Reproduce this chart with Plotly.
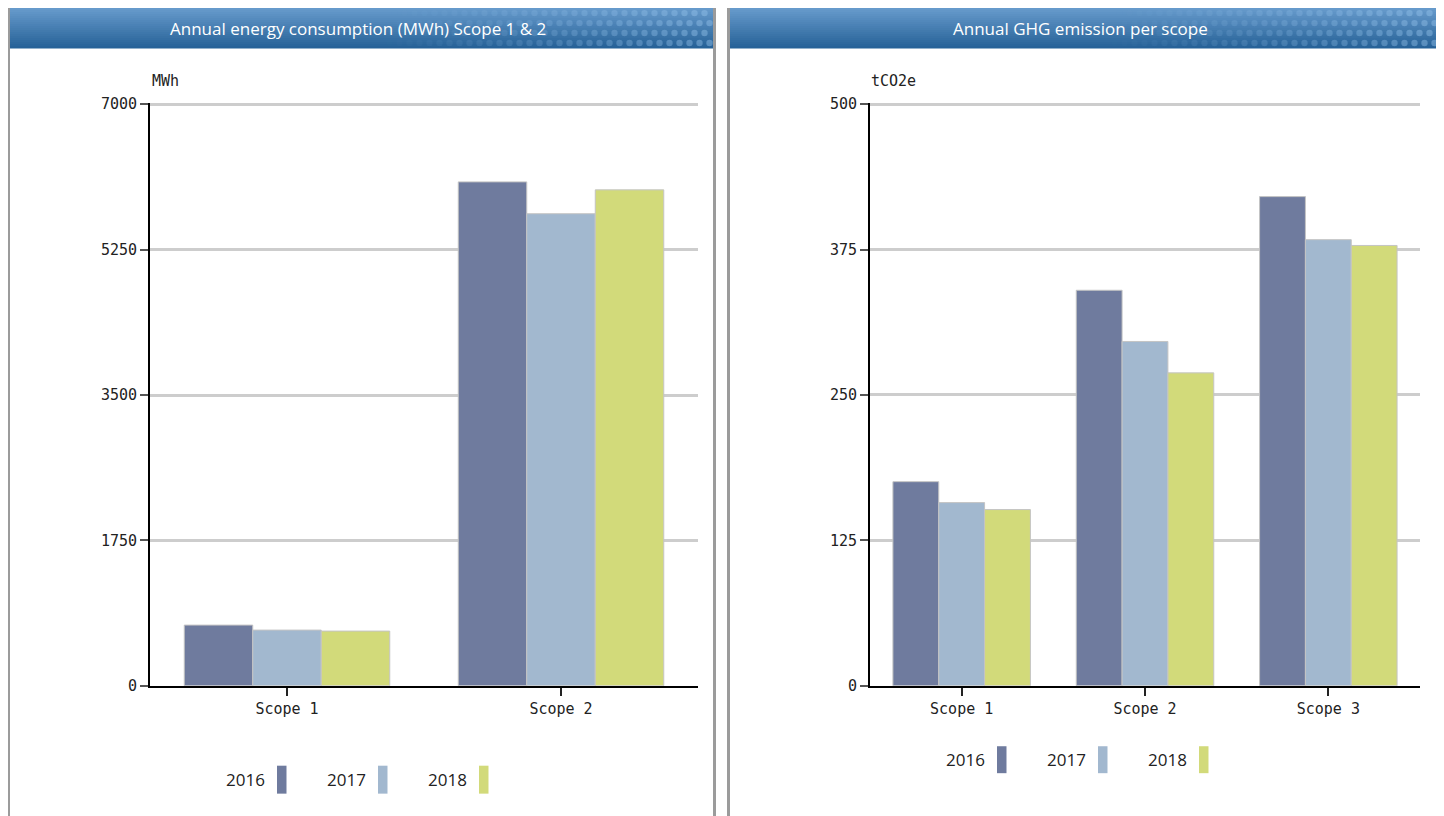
import plotly.graph_objects as go

W, H = 1444, 816

years = ["2016", "2017", "2018"]
colors = ["#6f7b9e", "#a2b8cf", "#d2da7a"]

energy_categories = ["Scope 1", "Scope 2"]
energy_2016 = [731, 6065]
energy_2017 = [671, 5682]
energy_2018 = [659, 5969]

ghg_categories = ["Scope 1", "Scope 2", "Scope 3"]
ghg_2016 = [175.5, 340, 420.5]
ghg_2017 = [157.5, 296, 383.5]
ghg_2018 = [151.5, 269, 378.5]

energy_ticks = [0, 1750, 3500, 5250, 7000]
ghg_ticks = [0, 125, 250, 375, 500]

titles = ["Annual energy consumption (MWh) Scope 1 & 2", "Annual GHG emission per scope"]
units = ["MWh", "tCO2e"]

# empirical page offset compensation (target pixel -> paper fraction)
OX, OY, SY = 8.0, 14.9, 0.981


def px(x):
    return (x - OX) / W


def py(y):
    return 1 - ((y - OY) / SY) / H


fig = go.Figure()
energy_series = [energy_2016, energy_2017, energy_2018]
ghg_series = [ghg_2016, ghg_2017, ghg_2018]
for yr, col, vals in zip(years, colors, energy_series):
    fig.add_trace(go.Bar(x=energy_categories, y=vals, name=yr,
                         marker=dict(color=col, line=dict(color="#c4c4c4", width=1)),
                         xaxis="x", yaxis="y", showlegend=False))
for yr, col, vals in zip(years, colors, ghg_series):
    fig.add_trace(go.Bar(x=ghg_categories, y=vals, name=yr,
                         marker=dict(color=col, line=dict(color="#c4c4c4", width=1)),
                         xaxis="x2", yaxis="y2", showlegend=False))

tickfont = dict(family="DejaVu Sans Mono, Liberation Mono, monospace", size=15, color="#222")
ydom = [py(686), py(102)]
common_y = dict(showgrid=True, gridcolor="#cdcdcd", gridwidth=3, zeroline=False, showline=True,
                linecolor="#000", linewidth=2, ticks="outside", ticklen=8, tickcolor="#555", tickwidth=2,
                tickfont=tickfont, domain=ydom, fixedrange=True)
common_x = dict(showline=True, linecolor="#000", linewidth=2, ticks="outside", ticklen=8, tickcolor="#222",
                tickwidth=2, tickfont=tickfont, fixedrange=True)

shapes = []
annotations = []

panels = [(8.5, 714.5), (728.5, 1439.5)]
for (l, r) in panels:
    # gradient title bar
    n = 20
    top, bot = 7, 47
    c0 = (0x66, 0x9a, 0xcb)
    c1 = (0x27, 0x62, 0x98)
    for i in range(n):
        t = i / (n - 1)
        c = tuple(int(round(c0[k] + (c1[k] - c0[k]) * t)) for k in range(3))
        y0 = top + (bot - top) * i / n
        y1 = top + (bot - top) * (i + 1) / n
        shapes.append(dict(type="rect", xref="paper", yref="paper", x0=px(l), x1=px(r), y0=py(y1 + 0.4), y1=py(y0),
                           fillcolor="rgb(%d,%d,%d)" % c, line=dict(width=0), layer="below"))
    # dotted decoration on the right part of the bar
    step = 10
    start = r - 330
    row = 0
    yy = top + 5
    while yy < bot - 2:
        xx = start + (step / 2 if row % 2 else 0)
        while xx < r - 4:
            a = max(0.0, min(1.0, (xx - start) / 330.0))
            shapes.append(dict(type="circle", xref="paper", yref="paper", x0=px(xx - 3.2), x1=px(xx + 3.2),
                               y0=py(yy + 3.2), y1=py(yy - 3.2), fillcolor="rgba(150,195,235,%.3f)" % (0.45 * a),
                               line=dict(width=0), layer="below"))
            xx += step
        yy += step
        row += 1
    # panel border
    shapes.append(dict(type="path", xref="paper", yref="paper",
                       path="M %f %f L %f %f L %f %f L %f %f" % (px(l), py(840), px(l), py(5.5), px(r), py(5.5), px(r), py(840)),
                       line=dict(color="#9b9b9b", width=3), layer="above"))

for (l, r), t in zip(panels, titles):
    annotations.append(dict(text=t, xref="paper", yref="paper", x=px((l + r) / 2 - 4), y=py(27), showarrow=False,
                            font=dict(family="Open Sans", size=17, color="#ffffff"), xanchor="center", yanchor="middle"))

# unit labels
annotations.append(dict(text=units[0], xref="paper", yref="paper", x=px(150), y=py(80), showarrow=False,
                        font=tickfont, xanchor="left", yanchor="middle"))
annotations.append(dict(text=units[1], xref="paper", yref="paper", x=px(869), y=py(80), showarrow=False,
                        font=tickfont, xanchor="left", yanchor="middle"))

# custom legends (text then vertical swatch)
legends = [(267, 780, 101, 28), (987, 760, 101, 27)]
for (xr, yc, stp, hh) in legends:
    for i, (yr, col) in enumerate(zip(years, colors)):
        x_text = xr + i * stp
        annotations.append(dict(text=yr, xref="paper", yref="paper", x=px(x_text), y=py(yc), showarrow=False,
                                font=dict(family="Open Sans", size=17, color="#222"), xanchor="right", yanchor="middle"))
        shapes.append(dict(type="rect", xref="paper", yref="paper", x0=px(x_text + 10), x1=px(x_text + 19.5),
                           y0=py(yc + hh / 2), y1=py(yc - hh / 2), fillcolor=col, line=dict(width=0)))

fig.update_layout(
    width=W, height=H, margin=dict(l=0, r=0, t=0, b=0),
    paper_bgcolor="#ffffff", plot_bgcolor="rgba(0,0,0,0)",
    barmode="group", bargap=0.25, bargroupgap=0,
    xaxis=dict(domain=[px(150), px(698)], anchor="y", **common_x),
    yaxis=dict(anchor="x", range=[0, 7015], tickvals=energy_ticks, ticktext=[str(v) for v in energy_ticks], **common_y),
    xaxis2=dict(domain=[px(870), px(1420)], anchor="y2", **common_x),
    yaxis2=dict(anchor="x2", range=[0, 501], tickvals=ghg_ticks, ticktext=[str(v) for v in ghg_ticks], **common_y),
    shapes=shapes, annotations=annotations, showlegend=False,
)

fig.write_html("out.html")
